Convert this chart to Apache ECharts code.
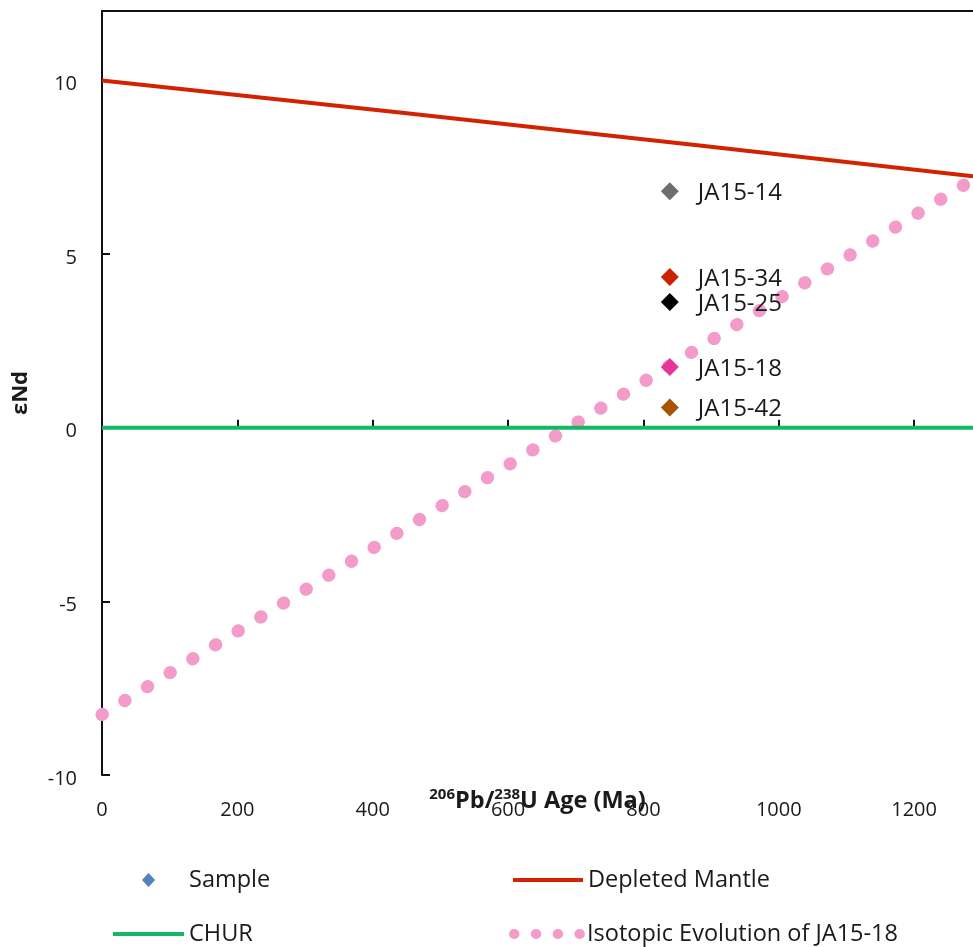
<!DOCTYPE html>
<html>
<head>
<meta charset="utf-8">
<script src="https://cdn.jsdelivr.net/npm/echarts@6/dist/echarts.min.js"></script>
<style>
html,body{margin:0;padding:0;background:#fff;}
#chart{width:973px;height:947px;}
</style>
</head>
<body>
<div id="chart"></div>
<script>
// ---- data ----
const sampleNames = ['JA15-14', 'JA15-34', 'JA15-25', 'JA15-18', 'JA15-42'];
const sampleAge = [839, 839, 839, 839, 839];
const sampleEpsNd = [6.81, 4.34, 3.62, 1.75, 0.58];

const dmAge = [0, 440, 883, 1287];
const dmEpsNd = [10, 9.08, 8.13, 7.24];

const churAge = [0, 1287];
const churEpsNd = [0, 0];

const evoAge = [0, 1287];
const evoEpsNd = [-8.26, 7.15];

const xTicks = [0, 200, 400, 600, 800, 1000, 1200];
const yTicks = [-10, -5, 0, 5, 10];

// ---- styles ----
const sampleColors = ['#6d6d6d', '#cc2200', '#000000', '#e8359a', '#a85400'];
const FONT = 'Open Sans';
const TXT = '#1a1a1a';
const LEG_FS = 23.5;
const LEG_LH = 28;

const chart = echarts.init(document.getElementById('chart'), null, {renderer: 'canvas'});

const zip = (a, b) => a.map((v, i) => [v, b[i]]);
const hiddenSym = {color: 'rgba(0,0,0,0)', borderWidth: 0, opacity: 0};
const legTxt = {fontSize: LEG_FS, color: TXT, fontFamily: FONT, lineHeight: LEG_LH};

const option = {
  animation: false,
  backgroundColor: '#fff',
  textStyle: {fontFamily: FONT},
  grid: {left: 102, right: 0, top: 11, bottom: 172, containLabel: false},
  xAxis: [{
    type: 'value', min: 0, max: 1287, interval: 200,
    splitLine: {show: false},
    axisLine: {lineStyle: {color: '#111', width: 2}},
    axisTick: {inside: true, length: 8, lineStyle: {color: '#111', width: 2}},
    axisLabel: {
      margin: 25, fontSize: 20, color: TXT, fontFamily: FONT, showMaxLabel: false,
      formatter: v => xTicks.includes(v) ? String(v) : ''
    },
    name: '{sup|206}{b|Pb/}{sup|238}{b|U Age (Ma)}',
    nameLocation: 'middle', nameGap: 12, nameMoveOverlap: false,
    nameTextStyle: {
      lineHeight: 26,
      rich: {
        sup: {fontSize: 15, fontWeight: 'bold', fontFamily: FONT, color: TXT, verticalAlign: 'top', lineHeight: 26},
        b: {fontSize: 23.5, fontWeight: 'bold', fontFamily: FONT, color: TXT, verticalAlign: 'bottom', lineHeight: 26}
      }
    }
  }, {
    type: 'value', position: 'top', min: 0, max: 1287,
    splitLine: {show: false},
    axisLine: {show: true, lineStyle: {color: '#111', width: 2}},
    axisTick: {show: false}, axisLabel: {show: false}
  }],
  yAxis: {
    type: 'value', min: -10, max: 12, interval: 5,
    splitLine: {show: false},
    axisLine: {lineStyle: {color: '#111', width: 2}},
    axisTick: {inside: true, length: 8, lineStyle: {color: '#111', width: 2}},
    axisLabel: {
      margin: 25, fontSize: 20, color: TXT, fontFamily: FONT, showMaxLabel: false,
      verticalAlign: 'top', lineHeight: 8,
      formatter: v => yTicks.includes(v) ? String(v) : ''
    },
    name: 'εNd', nameLocation: 'middle', nameGap: 70, nameMoveOverlap: false,
    nameTextStyle: {fontSize: 22, fontWeight: 'bold', color: TXT, fontFamily: FONT}
  },
  legend: [{
    left: 137, top: 861, itemWidth: 13, itemHeight: 14,
    textStyle: Object.assign({}, legTxt, {padding: [0, 0, 0, 29]}),
    data: [{name: 'Sample', icon: 'diamond', itemStyle: {color: '#4f81bd', opacity: 1}}]
  }, {
    left: 106, top: 915, itemWidth: 71, itemHeight: 13,
    textStyle: legTxt,
    data: [{name: 'CHUR', itemStyle: hiddenSym, lineStyle: {width: 4}}]
  }, {
    left: 506, top: 861, itemWidth: 70, itemHeight: 13,
    textStyle: legTxt,
    data: [{name: 'Depleted Mantle', itemStyle: hiddenSym, lineStyle: {width: 4}}]
  }, {
    left: 504, top: 915, itemWidth: 68, itemHeight: 13,
    textStyle: legTxt,
    data: [{name: 'Isotopic Evolution of JA15-18', itemStyle: hiddenSym,
            lineStyle: {width: 10, type: [0.5, 21.3], cap: 'round'}}]
  }],
  series: [{
    name: 'Isotopic Evolution of JA15-18', type: 'line', symbol: 'none', showSymbol: false,
    data: zip(evoAge, evoEpsNd),
    lineStyle: {color: '#f39bc9', width: 13, type: [0.5, 26.1], cap: 'round'},
    itemStyle: {color: '#f39bc9'}, z: 2
  }, {
    name: 'Depleted Mantle', type: 'line', symbol: 'none', showSymbol: false,
    data: zip(dmAge, dmEpsNd),
    lineStyle: {color: '#d22200', width: 4},
    itemStyle: {color: '#d22200'}, z: 3
  }, {
    name: 'CHUR', type: 'line', symbol: 'none', showSymbol: false,
    data: zip(churAge, churEpsNd),
    lineStyle: {color: '#12b866', width: 4},
    itemStyle: {color: '#12b866'}, z: 3
  }, {
    name: 'Sample', type: 'scatter', symbol: 'diamond', symbolSize: 18,
    itemStyle: {color: '#4f81bd', opacity: 1}, z: 5,
    data: sampleNames.map((n, i) => ({
      name: n, value: [sampleAge[i], sampleEpsNd[i]],
      itemStyle: {color: sampleColors[i], opacity: 1}
    })),
    label: {
      show: true, position: 'right', distance: 19, offset: [0, 2],
      formatter: p => p.name, fontSize: 24, color: TXT, fontFamily: FONT
    }
  }]
};
chart.setOption(option);
</script>
</body>
</html>
